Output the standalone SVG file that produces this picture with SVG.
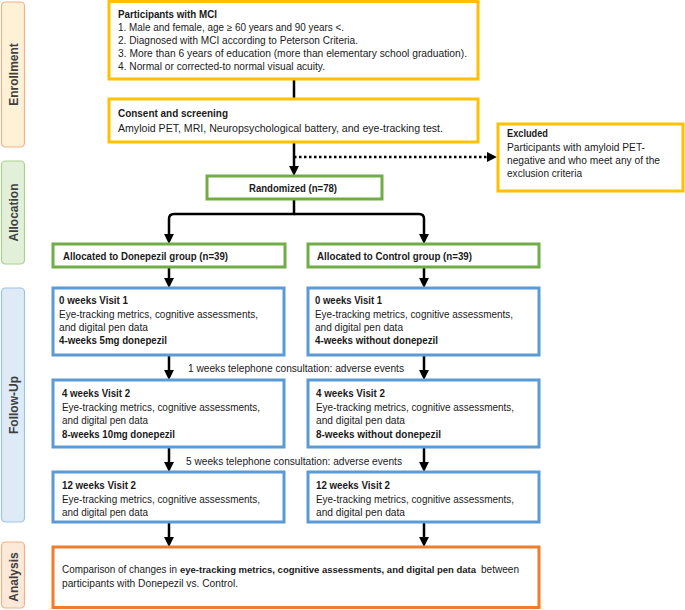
<svg xmlns="http://www.w3.org/2000/svg" width="685" height="610" viewBox="0 0 685 610">
<defs>
<marker id="arr" markerUnits="userSpaceOnUse" markerWidth="10" markerHeight="10" viewBox="0 0 9 9" refX="1" refY="4.5" orient="auto">
<path d="M0,0 L9,4.5 L0,9 z" fill="#000"/>
</marker>
<style>
text{font-family:"Liberation Sans",Arial,sans-serif;font-size:10px;fill:#1a1a1a}
.b{font-weight:bold}
.side{font-size:12px;font-weight:bold;fill:#404040}
.gold{fill:#fff;stroke:#ffc000;stroke-width:3}
.green{fill:#fff;stroke:#70ad47;stroke-width:3}
.blue{fill:#fff;stroke:#5b9bd5;stroke-width:3}
.orange{fill:#fff;stroke:#ed7d31;stroke-width:3}
.conn{fill:none;stroke:#000;stroke-width:2.5}
</style>
</defs>
<rect width="685" height="610" fill="#fff"/>

<g id="side-enrollment">
<rect x="1.5" y="2" width="23" height="145" rx="4" fill="#fef2d6" stroke="#f4b183" stroke-width="1.2"/>
<text class="side" transform="translate(17.5,74.5) rotate(-90)" text-anchor="middle">Enrollment</text>
</g>
<g id="side-allocation">
<rect x="1.5" y="161" width="23" height="103" rx="4" fill="#e2f0d9" stroke="#a9d18e" stroke-width="1.2"/>
<text class="side" transform="translate(17.5,212.5) rotate(-90)" text-anchor="middle">Allocation</text>
</g>
<g id="side-followup">
<rect x="1.5" y="288" width="23" height="234" rx="4" fill="#deebf7" stroke="#9dc3e6" stroke-width="1.2"/>
<text class="side" transform="translate(17.5,405) rotate(-90)" text-anchor="middle">Follow-Up</text>
</g>
<g id="side-analysis">
<rect x="1.5" y="542" width="23" height="66" rx="4" fill="#fde9d9" stroke="#f4b183" stroke-width="1.2"/>
<text class="side" transform="translate(17.5,577) rotate(-90)" text-anchor="middle">Analysis</text>
</g>

<g id="connectors">
<line class="conn" x1="294" y1="79" x2="294" y2="99"/>
<line class="conn" x1="294" y1="142" x2="294" y2="167" marker-end="url(#arr)"/>
<line class="conn" x1="294" y1="157" x2="488" y2="157" stroke-dasharray="2.5 2.5" marker-end="url(#arr)"/>
<path class="conn" d="M294,199 V214 H174 Q169,214 169,219 V235" marker-end="url(#arr)"/>
<path class="conn" d="M294,214 H419 Q424,214 424,219 V235" marker-end="url(#arr)"/>
<line class="conn" x1="169" y1="267" x2="169" y2="279" marker-end="url(#arr)"/>
<line class="conn" x1="424" y1="267" x2="424" y2="279" marker-end="url(#arr)"/>
<line class="conn" x1="169" y1="355" x2="169" y2="371" marker-end="url(#arr)"/>
<line class="conn" x1="424" y1="355" x2="424" y2="371" marker-end="url(#arr)"/>
<line class="conn" x1="169" y1="447" x2="169" y2="463" marker-end="url(#arr)"/>
<line class="conn" x1="424" y1="447" x2="424" y2="463" marker-end="url(#arr)"/>
<line class="conn" x1="169" y1="522" x2="169" y2="538" marker-end="url(#arr)"/>
<line class="conn" x1="424" y1="522" x2="424" y2="538" marker-end="url(#arr)"/>
<text x="188" y="371.5" textLength="216" lengthAdjust="spacingAndGlyphs">1 weeks telephone consultation: adverse events</text>
<text x="186" y="464.5" textLength="216" lengthAdjust="spacingAndGlyphs">5 weeks telephone consultation: adverse events</text>
</g>

<g id="participants">
<rect class="gold" x="109" y="1.5" width="369" height="77.5"/>
<text class="b" x="118" y="17.5" textLength="99" lengthAdjust="spacingAndGlyphs">Participants with MCI</text>
<text x="118" y="30.5" textLength="226" lengthAdjust="spacingAndGlyphs">1. Male and female, age ≥ 60 years and 90 years &lt;.</text>
<text x="118" y="43.5" textLength="240" lengthAdjust="spacingAndGlyphs">2. Diagnosed with MCI according to Peterson Criteria.</text>
<text x="118" y="56.5" textLength="349" lengthAdjust="spacingAndGlyphs">3. More than 6 years of education (more than elementary school graduation).</text>
<text x="118" y="69.5" textLength="207" lengthAdjust="spacingAndGlyphs">4. Normal or corrected-to normal visual acuity.</text>
</g>

<g id="consent">
<rect class="gold" x="109" y="99" width="369" height="43"/>
<text class="b" x="118" y="117" textLength="110" lengthAdjust="spacingAndGlyphs">Consent and screening</text>
<text x="118" y="131.5" textLength="325" lengthAdjust="spacingAndGlyphs">Amyloid PET, MRI, Neuropsychological battery, and eye-tracking test.</text>
</g>

<g id="excluded">
<rect class="gold" x="498" y="124" width="185" height="67"/>
<text class="b" x="507" y="136.5" textLength="41" lengthAdjust="spacingAndGlyphs">Excluded</text>
<text x="507" y="150.5" textLength="138" lengthAdjust="spacingAndGlyphs">Participants with amyloid PET-</text>
<text x="507" y="163.5" textLength="153" lengthAdjust="spacingAndGlyphs">negative and who meet any of the</text>
<text x="507" y="176.5" textLength="75" lengthAdjust="spacingAndGlyphs">exclusion criteria</text>
</g>

<g id="randomized">
<rect class="green" x="207" y="176" width="175" height="23"/>
<text class="b" x="249" y="191.5" textLength="88" lengthAdjust="spacingAndGlyphs">Randomized (n=78)</text>
</g>

<g id="alloc-donepezil">
<rect class="green" x="53" y="244" width="232" height="23"/>
<text class="b" x="63" y="259.5" textLength="165" lengthAdjust="spacingAndGlyphs">Allocated to Donepezil group (n=39)</text>
</g>
<g id="alloc-control">
<rect class="green" x="308" y="244" width="231" height="23"/>
<text class="b" x="317" y="259.5" textLength="155" lengthAdjust="spacingAndGlyphs">Allocated to Control group (n=39)</text>
</g>

<g id="d-visit1">
<rect class="blue" x="53" y="288" width="231" height="67"/>
<text class="b" x="59" y="304" textLength="69" lengthAdjust="spacingAndGlyphs">0 weeks Visit 1</text>
<text x="59" y="317.5" textLength="199" lengthAdjust="spacingAndGlyphs">Eye-tracking metrics, cognitive assessments,</text>
<text x="59" y="331" textLength="89" lengthAdjust="spacingAndGlyphs">and digital pen data</text>
<text class="b" x="59" y="344" textLength="108" lengthAdjust="spacingAndGlyphs">4-weeks 5mg donepezil</text>
</g>
<g id="d-visit2">
<rect class="blue" x="53" y="380" width="231" height="67"/>
<text class="b" x="62" y="397" textLength="68" lengthAdjust="spacingAndGlyphs">4 weeks Visit 2</text>
<text x="62" y="410.5" textLength="198" lengthAdjust="spacingAndGlyphs">Eye-tracking metrics, cognitive assessments,</text>
<text x="62" y="423.5" textLength="86" lengthAdjust="spacingAndGlyphs">and digital pen data</text>
<text class="b" x="62" y="437.5" textLength="113" lengthAdjust="spacingAndGlyphs">8-weeks 10mg donepezil</text>
</g>
<g id="d-visit3">
<rect class="blue" x="53" y="472" width="231" height="50"/>
<text class="b" x="62" y="489" textLength="74" lengthAdjust="spacingAndGlyphs">12 weeks Visit 2</text>
<text x="62" y="502.5" textLength="198" lengthAdjust="spacingAndGlyphs">Eye-tracking metrics, cognitive assessments,</text>
<text x="62" y="516" textLength="86" lengthAdjust="spacingAndGlyphs">and digital pen data</text>
</g>

<g id="c-visit1">
<rect class="blue" x="308" y="288" width="231" height="67"/>
<text class="b" x="315" y="304" textLength="67" lengthAdjust="spacingAndGlyphs">0 weeks Visit 1</text>
<text x="315" y="317.5" textLength="198" lengthAdjust="spacingAndGlyphs">Eye-tracking metrics, cognitive assessments,</text>
<text x="315" y="331" textLength="88" lengthAdjust="spacingAndGlyphs">and digital pen data</text>
<text class="b" x="315" y="344" textLength="123" lengthAdjust="spacingAndGlyphs">4-weeks without donepezil</text>
</g>
<g id="c-visit2">
<rect class="blue" x="308" y="380" width="231" height="67"/>
<text class="b" x="316" y="397" textLength="69" lengthAdjust="spacingAndGlyphs">4 weeks Visit 2</text>
<text x="316" y="410.5" textLength="198" lengthAdjust="spacingAndGlyphs">Eye-tracking metrics, cognitive assessments,</text>
<text x="316" y="423.5" textLength="89" lengthAdjust="spacingAndGlyphs">and digital pen data</text>
<text class="b" x="316" y="437.5" textLength="125" lengthAdjust="spacingAndGlyphs">8-weeks without donepezil</text>
</g>
<g id="c-visit3">
<rect class="blue" x="308" y="472" width="231" height="50"/>
<text class="b" x="316" y="489" textLength="74" lengthAdjust="spacingAndGlyphs">12 weeks Visit 2</text>
<text x="316" y="502.5" textLength="198" lengthAdjust="spacingAndGlyphs">Eye-tracking metrics, cognitive assessments,</text>
<text x="316" y="516" textLength="89" lengthAdjust="spacingAndGlyphs">and digital pen data</text>
</g>

<g id="analysis">
<rect class="orange" x="53" y="547" width="486" height="60.5"/>
<text x="62" y="572.5" textLength="115" lengthAdjust="spacingAndGlyphs">Comparison of changes in</text>
<text class="b" x="180" y="572.5" style="font-size:9.4px" textLength="296" lengthAdjust="spacingAndGlyphs">eye-tracking metrics, cognitive assessments, and digital pen data</text>
<text x="481" y="572.5" textLength="38" lengthAdjust="spacingAndGlyphs">between</text>
<text x="62" y="586.5" textLength="176" lengthAdjust="spacingAndGlyphs">participants with Donepezil vs. Control.</text>
</g>
</svg>
